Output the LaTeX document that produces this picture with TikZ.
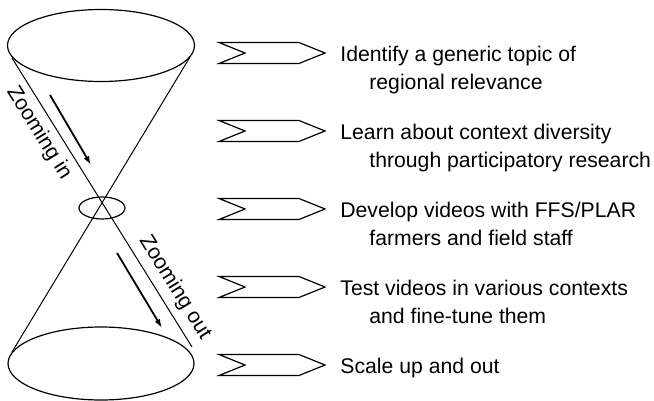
\documentclass[tikz,border=0pt]{standalone}
\usepackage{fontspec}
\setmainfont{Liberation Sans}
\usetikzlibrary{shapes.symbols,arrows.meta,positioning}
\begin{document}
\begin{tikzpicture}[x=0.5pt,y=0.5pt,
  every node/.style={font=\fontsize{10.6}{14}\selectfont},
  stage/.style={draw, line width=0.6pt, signal, signal from=west, signal to=east,
    signal pointer angle=44, minimum width=53pt, minimum height=10.5pt, inner sep=0pt},
  zoomarrow/.style={line width=0.9pt, -{Latex[length=4.5pt,width=3pt]}}]
  \useasboundingbox (0,0) rectangle (654,-401);
  % cone: top, waist and bottom
  \draw[line width=0.6pt] (101,-45.5) ellipse [x radius=93.5, y radius=36];
  \draw[line width=0.6pt] (102,-208) ellipse [x radius=23, y radius=11];
  \draw[line width=0.6pt] (101,-363.5) ellipse [x radius=93, y radius=36.5];
  \coordinate (tl) at (12,-58);
  \coordinate (tr) at (190,-57);
  \coordinate (bl) at (12,-352);
  \coordinate (br) at (192,-347);
  \draw[line width=0.5pt] (tl) -- (br)
    node[pos=0.23, sloped, below] {Zooming in}
    node[pos=0.825, sloped, above] {Zooming out};
  \draw[line width=0.5pt] (tr) -- (bl);
  % arrows along the cone
  \coordinate (in1) at (50,-95);
  \coordinate (in2) at (91,-165);
  \coordinate (out1) at (117,-253);
  \coordinate (out2) at (162,-328);
  \draw[zoomarrow] (in1) -- (in2);
  \draw[zoomarrow] (out1) -- (out2);
  % stages (base anchor sits on the last line)
  \foreach \y/\dy/\txt [count=\i] in {
      53/28/{Identify a generic topic of\\\hspace*{14.5pt}regional relevance},
      131/28/{Learn about context diversity\\\hspace*{14.5pt}through participatory research},
      209/28/{Develop videos with FFS/PLAR\\\hspace*{14.5pt}farmers and field staff},
      287/28/{Test videos in various contexts\\\hspace*{14.5pt}and fine-tune them},
      365/0/{Scale up and out}} {
    \node[stage] (s\i) at (272,-\y) {};
    \node[anchor=base west, align=left, inner sep=0pt] (t\i) at (340,{-\y-8.5-\dy}) {\txt};
  }
\end{tikzpicture}
\end{document}
